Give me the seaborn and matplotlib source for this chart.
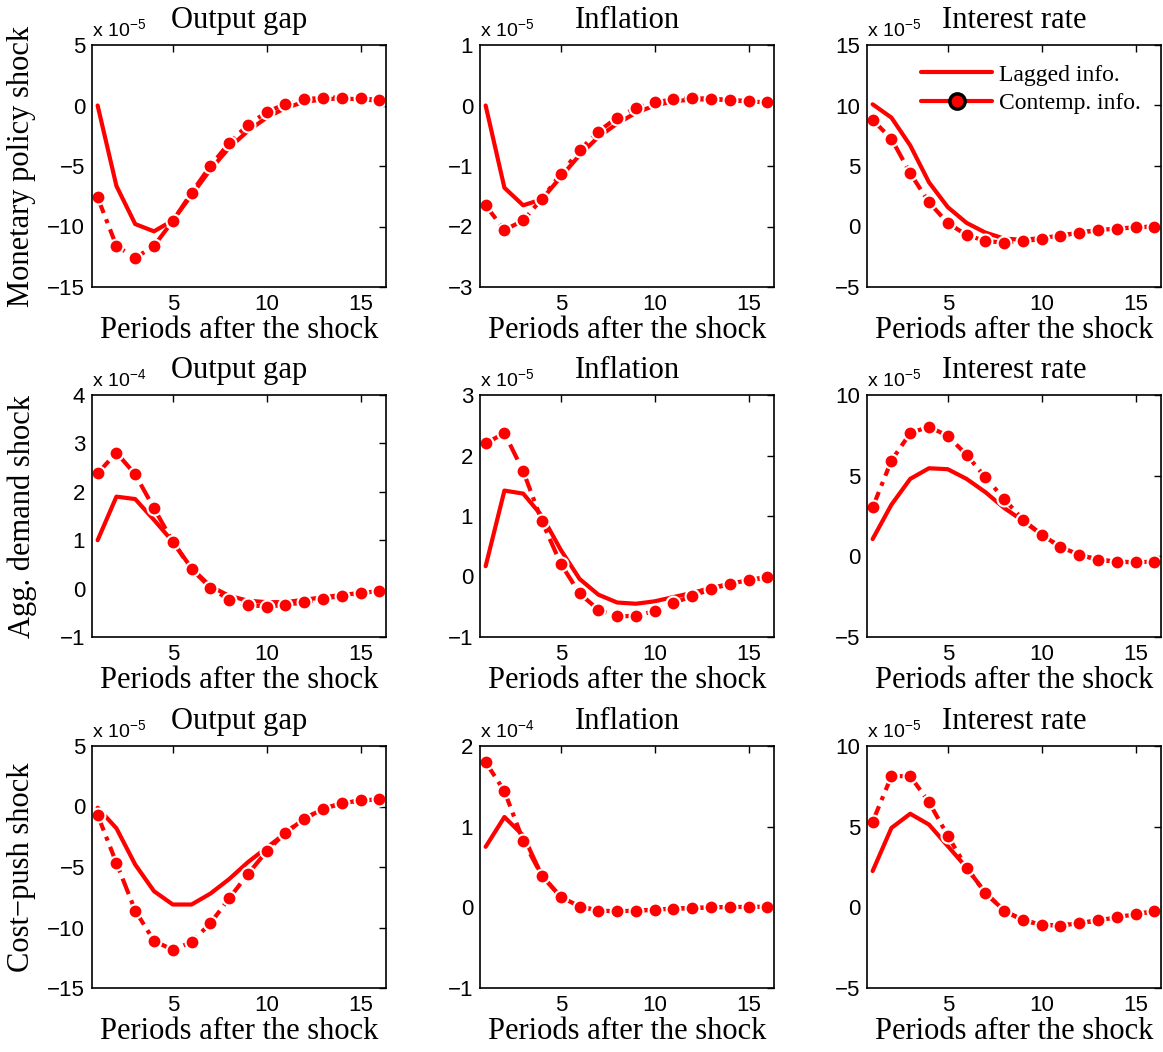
import matplotlib
matplotlib.use('Agg')
import matplotlib.pyplot as plt
from matplotlib.lines import Line2D
import seaborn as sns
import numpy as np

periods = list(range(1, 17))

shocks = ['Monetary policy shock', 'Agg. demand shock', 'Cost\u2212push shock']
variables = ['Output gap', 'Inflation', 'Interest rate']

# values in units of the axis multiplier (x 10^exp)
# monetary policy shock
mp_gap_lag = [0.0, -6.65, -9.8, -10.4, -9.5, -7.4, -5.3, -3.5, -2.1, -1.0, -0.2, 0.3, 0.5, 0.6, 0.5, 0.4]
mp_gap_con = [-7.6, -11.6, -12.6, -11.6, -9.55, -7.2, -5.0, -3.1, -1.6, -0.55, 0.14, 0.5, 0.66, 0.66, 0.58, 0.47]
mp_inf_lag = [0.0, -1.36, -1.65, -1.55, -1.18, -0.82, -0.52, -0.30, -0.12, 0.0, 0.07, 0.1, 0.1, 0.09, 0.07, 0.05]
mp_inf_con = [-1.65, -2.06, -1.9, -1.54, -1.13, -0.74, -0.43, -0.2, -0.04, 0.055, 0.1, 0.12, 0.115, 0.09, 0.07, 0.055]
mp_int_lag = [10.1, 9.0, 6.7, 3.65, 1.6, 0.3, -0.5, -1.0, -1.1, -0.95, -0.75, -0.5, -0.3, -0.17, -0.08, 0.0]
mp_int_con = [8.8, 7.25, 4.4, 2.0, 0.28, -0.7, -1.2, -1.33, -1.2, -1.05, -0.78, -0.5, -0.3, -0.17, -0.08, 0.0]
# aggregate demand shock
ad_gap_lag = [1.0, 1.9, 1.85, 1.42, 0.97, 0.42, 0.05, -0.15, -0.25, -0.28, -0.28, -0.23, -0.18, -0.13, -0.09, -0.05]
ad_gap_con = [2.38, 2.81, 2.36, 1.66, 0.97, 0.4, 0.02, -0.23, -0.34, -0.37, -0.34, -0.28, -0.21, -0.15, -0.1, -0.05]
ad_inf_lag = [0.17, 1.42, 1.37, 1.0, 0.44, -0.04, -0.3, -0.43, -0.45, -0.41, -0.34, -0.27, -0.19, -0.12, -0.06, -0.01]
ad_inf_con = [2.2, 2.37, 1.74, 0.91, 0.21, -0.28, -0.55, -0.66, -0.65, -0.57, -0.44, -0.32, -0.21, -0.12, -0.06, -0.01]
ad_int_lag = [1.07, 3.2, 4.8, 5.46, 5.4, 4.8, 3.98, 3.0, 2.2, 1.34, 0.58, 0.1, -0.21, -0.33, -0.37, -0.33]
ad_int_con = [3.03, 5.94, 7.63, 8.04, 7.46, 6.29, 4.9, 3.55, 2.27, 1.34, 0.58, 0.1, -0.21, -0.33, -0.37, -0.33]
# cost-push shock
cp_gap_lag = [-0.1, -1.8, -4.8, -7.0, -8.1, -8.1, -7.2, -6.0, -4.6, -3.4, -2.2, -1.0, -0.2, 0.27, 0.5, 0.58]
cp_gap_con = [-0.7, -4.67, -8.6, -11.1, -11.85, -11.2, -9.65, -7.6, -5.58, -3.7, -2.15, -1.0, -0.2, 0.27, 0.5, 0.58]
cp_inf_lag = [0.75, 1.12, 0.89, 0.39, 0.13, 0.01, -0.04, -0.05, -0.04, -0.03, -0.015, -0.01, 0.0, 0.005, 0.005, 0.005]
cp_inf_con = [1.8, 1.44, 0.825, 0.39, 0.13, 0.01, -0.04, -0.05, -0.04, -0.03, -0.015, -0.01, 0.0, 0.005, 0.005, 0.005]
cp_int_lag = [2.25, 4.92, 5.8, 5.13, 3.8, 2.46, 0.9, -0.2, -0.8, -1.08, -1.13, -0.98, -0.81, -0.62, -0.42, -0.25]
cp_int_con = [5.31, 8.13, 8.13, 6.52, 4.44, 2.46, 0.9, -0.2, -0.8, -1.08, -1.13, -0.98, -0.81, -0.62, -0.42, -0.25]

lagged = [[mp_gap_lag, mp_inf_lag, mp_int_lag],
          [ad_gap_lag, ad_inf_lag, ad_int_lag],
          [cp_gap_lag, cp_inf_lag, cp_int_lag]]
contemp = [[mp_gap_con, mp_inf_con, mp_int_con],
           [ad_gap_con, ad_inf_con, ad_int_con],
           [cp_gap_con, cp_inf_con, cp_int_con]]
exponents = [[-5, -5, -5], [-4, -5, -5], [-5, -4, -5]]
yticks = [[[-15, -10, -5, 0, 5], [-3, -2, -1, 0, 1], [-5, 0, 5, 10, 15]],
          [[-1, 0, 1, 2, 3, 4], [-1, 0, 1, 2, 3], [-5, 0, 5, 10]],
          [[-15, -10, -5, 0, 5], [-1, 0, 1, 2], [-5, 0, 5, 10]]]

sns.set_style('white')
plt.rcParams['font.family'] = ['Liberation Sans', 'DejaVu Sans']
plt.rcParams['text.color'] = 'black'
plt.rcParams['axes.labelcolor'] = 'black'
plt.rcParams['mathtext.fontset'] = 'custom'
plt.rcParams['mathtext.rm'] = 'Liberation Sans'
plt.rcParams['mathtext.it'] = 'Liberation Sans'
serif = ['Liberation Serif', 'DejaVu Serif']

fig = plt.figure(figsize=(11.63, 10.52), dpi=100)
lefts = [92 / 1163, 480 / 1163, 867 / 1163]
bottoms = [1 - 287 / 1052, 1 - 637 / 1052, 1 - 988 / 1052]
w = 294 / 1163
h = 242 / 1052

for r in range(3):
    for c in range(3):
        ax = fig.add_axes([lefts[c], bottoms[r], w, h])
        sns.lineplot(x=periods, y=lagged[r][c], ax=ax, color='red', lw=3, linestyle='-')
        sns.lineplot(x=periods, y=contemp[r][c], ax=ax, color='red', lw=3,
                     dashes=False, linestyle=(0, (4, 1.6, 1, 1.6)),
                     marker='o', markersize=10, markerfacecolor='red',
                     markeredgecolor='white', markeredgewidth=1.5)
        yt = yticks[r][c]
        ax.set_ylim(yt[0], yt[-1])
        ax.set_yticks(yt)
        ax.set_xlim(0.7, 16.35)
        ax.set_xticks([5, 10, 15])
        ax.tick_params(direction='in', top=True, right=True, length=5, width=1,
                       labelsize=16, pad=5, color='black', labelcolor='black')
        for s in ax.spines.values():
            s.set_color('black')
            s.set_linewidth(1.2)
        ax.set_xlabel('Periods after the shock', fontsize=22, family=serif, labelpad=1)
        ax.set_ylabel('')
        ax.set_title(variables[c], fontsize=22, family=serif, pad=12)
        ax.text(0.0, 1.02, 'x 10$^{%d}$' % exponents[r][c], transform=ax.transAxes,
                fontsize=14, ha='left', va='bottom')
        if c == 0:
            fig.text(22 / 1163, bottoms[r] + h / 2, shocks[r], rotation=90, fontsize=22,
                     family=serif, ha='center', va='center')
        if r == 0 and c == 2:
            handles = [Line2D([], [], color='red', lw=3),
                       Line2D([], [], color='red', lw=3, marker='o', markersize=11,
                              markerfacecolor='red', markeredgecolor='black', markeredgewidth=2.5)]
            ax.legend(handles, ['Lagged info.', 'Contemp. info.'], loc='upper right',
                      bbox_to_anchor=(0.98, 0.98),
                      frameon=False, prop={'family': serif, 'size': 17},
                      handlelength=3.0, handletextpad=0.3, labelspacing=0.3,
                      borderaxespad=0.2)

fig.savefig('out.png', dpi=100)
